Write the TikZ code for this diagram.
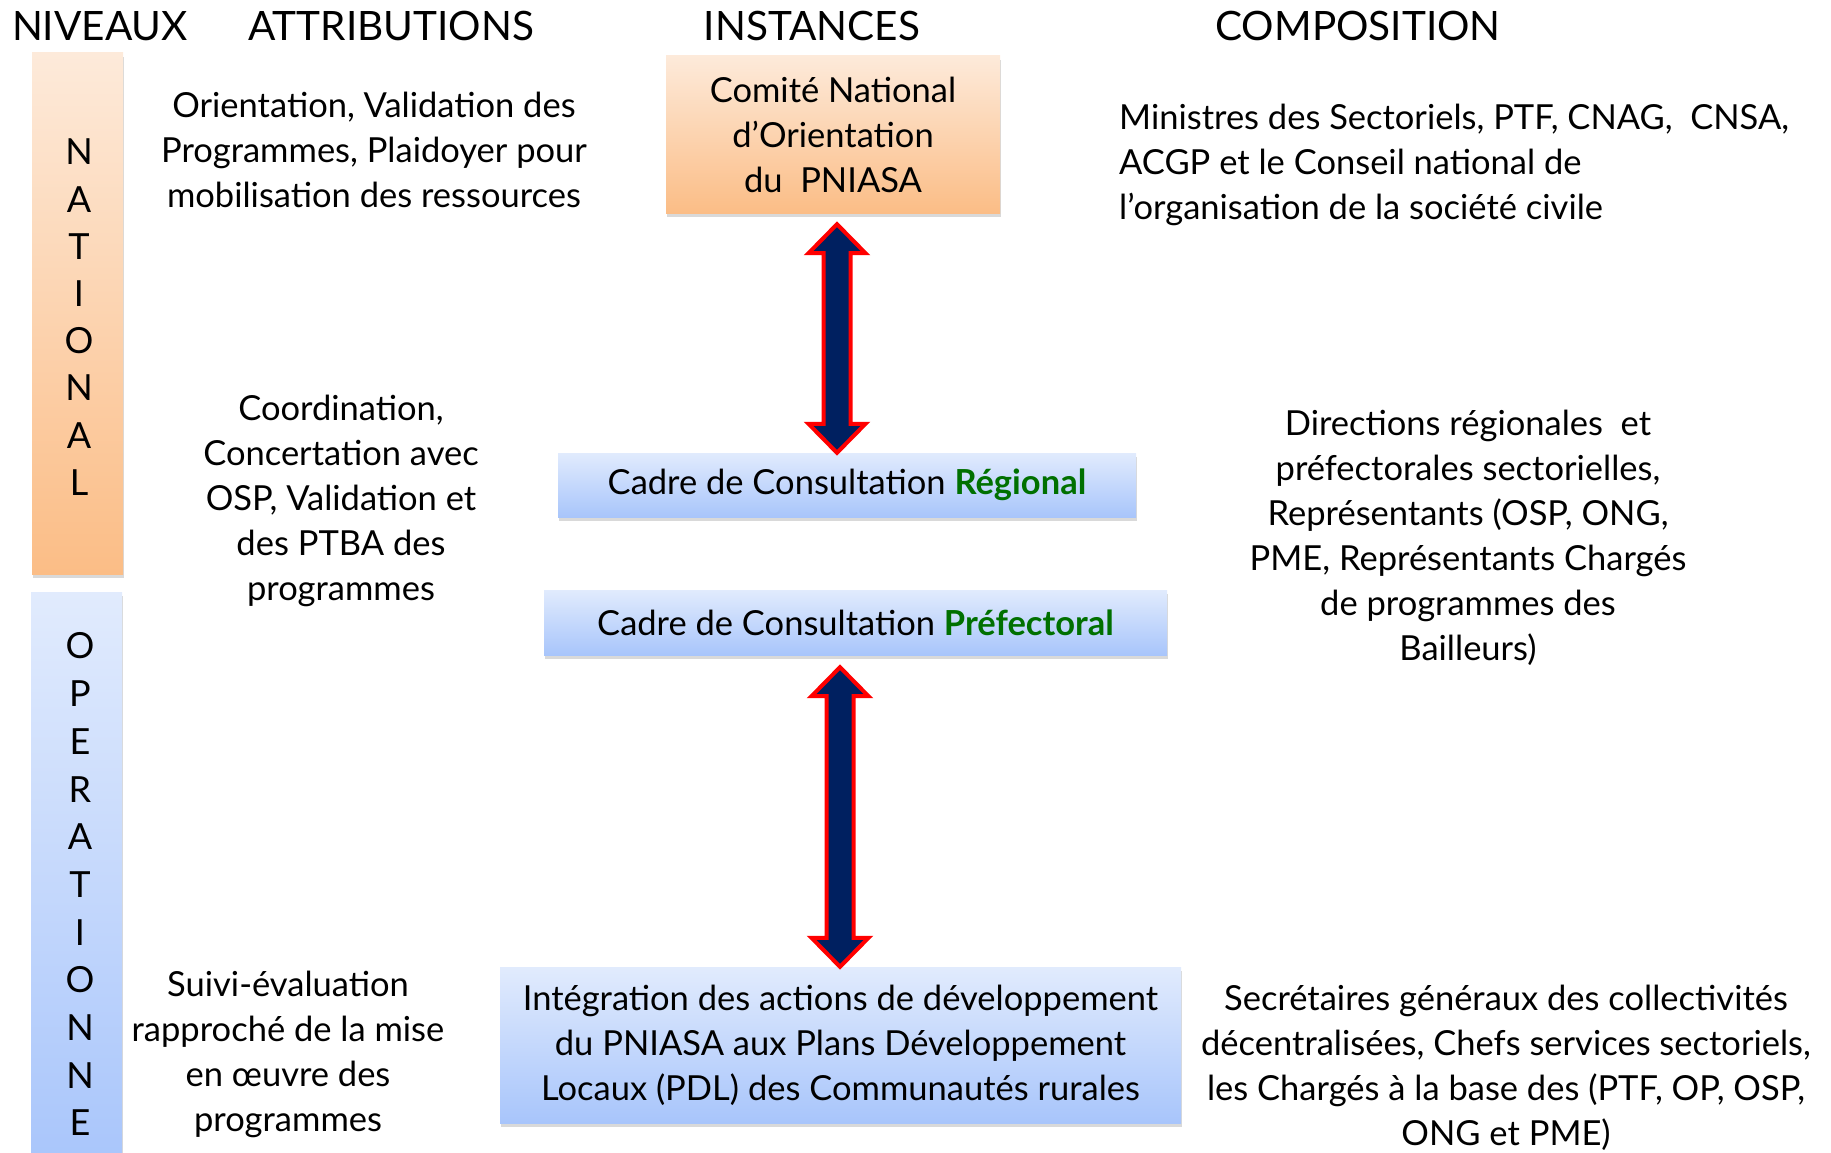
\documentclass[tikz,border=0pt]{standalone}
\usepackage{fontspec}
\setmainfont{Lato}
\usetikzlibrary{calc,shadows}

\definecolor{orangetop}{HTML}{FDEADA}
\definecolor{orangebot}{HTML}{FBBD86}
\definecolor{bluetop}{HTML}{E1EBFD}
\definecolor{bluebot}{HTML}{A8C5FB}
\definecolor{darkgreen}{HTML}{007000}
\definecolor{navyfill}{HTML}{002060}

\newcommand\bodyfont{\fontsize{34.5}{45}\selectfont}
\newcommand\headfont{\fontsize{40.5}{48}\selectfont}
\newcommand\green[1]{\textcolor{darkgreen}{\textbf{#1}}}

% double block arrow between two coordinates (top, bottom)
\newcommand\blockarrow[2]{%
  \draw[blockarr] let \p1=(#1), \p2=(#2) in
    (\x1,\y1) -- (\x1+28.5pt,\y1-29pt) -- (\x1+13.5pt,\y1-29pt)
    -- (\x1+13.5pt,\y2+29pt) -- (\x1+28.5pt,\y2+29pt) -- (\x1,\y2)
    -- (\x1-28.5pt,\y2+29pt) -- (\x1-13.5pt,\y2+29pt)
    -- (\x1-13.5pt,\y1-29pt) -- (\x1-28.5pt,\y1-29pt) -- cycle;}

\begin{document}
\begin{tikzpicture}[
    x=1pt, y=-1pt,
    heading/.style={font=\headfont, inner sep=0pt},
    txt/.style={font=\bodyfont, align=center, inner sep=0pt},
    shadowed/.style={drop shadow={shadow xshift=1pt, shadow yshift=-4pt, opacity=.3}},
    orangebox/.style={shadowed, top color=orangetop, bottom color=orangebot, font=\bodyfont, align=center},
    bluebox/.style={shadowed, top color=bluetop, bottom color=bluebot, font=\bodyfont, align=center},
    letter/.style={font=\fontsize{36}{36}\selectfont, inner sep=0pt},
    blockarr/.style={draw=red, line width=4pt, fill=navyfill, line join=miter}
  ]
  \useasboundingbox (0,0) rectangle (1831,1153);

  % column headings
  \node[heading] (hniv) at (100,26) {NIVEAUX};
  \node[heading] (hatt) at (391,26) {ATTRIBUTIONS};
  \node[heading] (hins) at (812,26) {INSTANCES};
  \node[heading] (hcom) at (1358,26) {COMPOSITION};

  % level bars
  \node[orangebox, minimum width=91, minimum height=521] (natbar) at (77.5,313.5) {};
  \node[bluebox, minimum width=91, minimum height=580] (opbar) at (76.5,882) {};
  \foreach \l [count=\i] in {N,A,T,I,O,N,A,L}
    \node[letter] (nat\i) at (79,{152+47.2*(\i-1)}) {\l};
  \foreach \l [count=\i] in {O,P,E,R,A,T,I,O,N,N,E}
    \node[letter] (op\i) at (80,{646+47.7*(\i-1)}) {\l};

  % attributions
  \node[txt] (att1) at (374,150) {Orientation, Validation des\\Programmes, Plaidoyer pour\\mobilisation des ressources};
  \node[txt] (att2) at (341,501) {Coordination,\\Concertation avec\\OSP, Validation et\\des PTBA des\\programmes};
  \node[txt] (att3) at (288,1054) {Suivi-évaluation\\rapproché de la mise\\en œuvre des\\programmes};

  % instances
  \node[orangebox, minimum width=334, minimum height=157] (cnop) at (833,134.5) {Comité National\\d’Orientation\\du~~PNIASA};
  \node[bluebox, minimum width=578, minimum height=64] (ccr) at (847,485) {Cadre de Consultation \green{Régional}};
  \node[bluebox, minimum width=623, minimum height=65] (ccp) at (855.5,622.5) {Cadre de Consultation \green{Préfectoral}};
  \node[bluebox, minimum width=681, minimum height=156] (pdl) at (840.5,1045) {Intégration des actions de développement\\du PNIASA aux Plans Développement\\Locaux (PDL) des Communautés rurales};

  \coordinate (a1s) at ($(cnop.south)+(4,11)$);
  \coordinate (a1e) at (a1s |- ccr.north);
  \coordinate (a2s) at ($(ccp.south)+(-15.5,12)$);
  \coordinate (a2e) at (a2s |- pdl.north);
  \blockarrow{a1s}{a1e}
  \blockarrow{a2s}{a2e}

  % composition
  \node[txt, align=left, anchor=west] (com1) at (1119,165) {Ministres des Sectoriels, PTF, CNAG,~~CNSA,\\ACGP et le Conseil national de\\l’organisation de la société civile};
  \node[txt] (com2) at (1468,538) {Directions régionales~~et\\préfectorales sectorielles,\\Représentants (OSP, ONG,\\PME, Représentants Chargés\\de programmes des\\Bailleurs)};
  \node[txt] (com3) at (1506,1068) {Secrétaires généraux des collectivités\\décentralisées, Chefs services sectoriels,\\les Chargés à la base des (PTF, OP, OSP,\\ONG et PME)};
\end{tikzpicture}
\end{document}
